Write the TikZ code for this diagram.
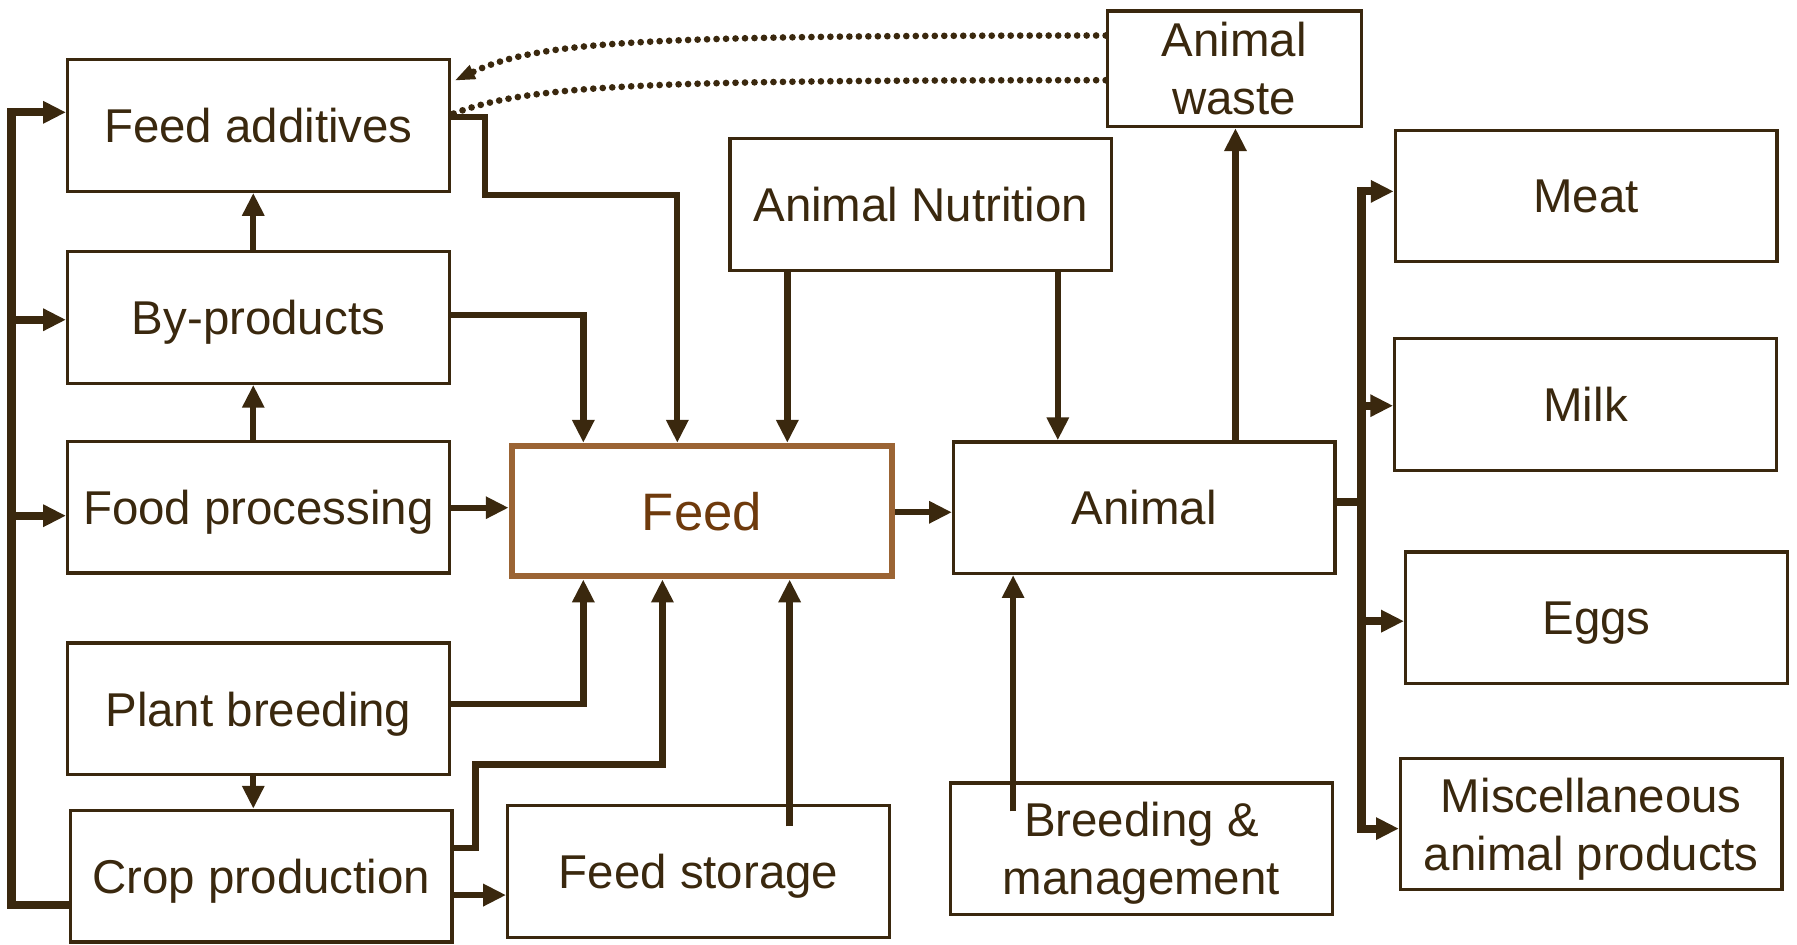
\documentclass[tikz,border=0pt]{standalone}
\usepackage{fontspec}
\setmainfont{Liberation Sans}
\usetikzlibrary{arrows.meta,calc}
\definecolor{dk}{RGB}{58,40,14}
\definecolor{feedborder}{RGB}{155,100,52}
\definecolor{feedtext}{RGB}{110,58,12}
\begin{document}
\begin{tikzpicture}[x=0.02292cm,y=-0.02292cm,
 box/.style={draw=dk,line width=1.9pt,minimum width=7.63cm,minimum height=2.63cm,inner sep=0pt,text depth=0pt,align=center,text=dk,font=\fontsize{27}{33}\selectfont},
 conn/.style={draw=dk,line width=3.6pt,-{Triangle[length=13pt,width=12pt]}},
 plainline/.style={draw=dk,line width=3.6pt},
 dots/.style={draw=dk,line width=3.8pt,line cap=round,dash pattern=on 0pt off 5.4pt}]
\useasboundingbox (0,0) rectangle (1568,824);
% nodes
\node[box] (fa) at (225.5,109.5) {Feed additives};
\node[box] (bp) at (225.5,277) {By-products};
\node[box] (fp) at (225.5,442.5) {Food processing};
\node[box] (pb) at (225.5,618.5) {Plant breeding};
\node[box] (cp) at (228,764.5) {Crop production};
\node[box] (fs) at (609.5,760.5) {Feed storage};
\node[box,draw=feedborder,line width=3.8pt,minimum width=7.6cm,minimum height=2.6cm,text=feedtext,font=\fontsize{30}{36}\selectfont] (feed) at (612.5,446) {Feed};
\node[box] (an) at (803.5,178.5) {Animal Nutrition};
\node[box,minimum width=5.08cm,minimum height=2.31cm] (aw) at (1077,60) {Animal\\waste};
\node[box] (anim) at (998.5,443) {Animal};
\node[box] (bm) at (996,740.5) {Breeding \&\\management};
\node[box] (meat) at (1384,171) {Meat};
\node[box] (milk) at (1383.5,353) {Milk};
\node[box] (eggs) at (1393,539) {Eggs};
\node[box] (misc) at (1388.5,719) {Miscellaneous\\animal products};
% left bus
\draw[conn,line width=4.6pt] (cp.west |- 0,790) -- (10,790) -- (10,98) -- (fa.west |- 0,98);
\draw[conn,line width=4.6pt] (10,279) -- (bp.west |- 0,279);
\draw[conn,line width=4.6pt] (10,450) -- (fp.west |- 0,450);
% vertical links on the left column
\draw[conn] (bp.north -| 221,0) -- (fa.south -| 221,0);
\draw[conn] (fp.north -| 221,0) -- (bp.south -| 221,0);
\draw[conn] (pb.south -| 221,0) -- (cp.north -| 221,0);
% links into feed
\draw[conn] (fa.east |- 0,102) -- (423,102) -- (423,170) -- (591,170) -- (feed.north -| 591,0);
\draw[conn] (bp.east |- 0,275) -- (509,275) -- (feed.north -| 509,0);
\draw[conn] (fp.east |- 0,443) -- (feed.west |- 0,443);
\draw[conn] (pb.east |- 0,614) -- (509,614) -- (feed.south -| 509,0);
\draw[conn] (cp.east |- 0,740) -- (415,740) -- (415,667) -- (578,667) -- (feed.south -| 578,0);
\draw[conn] (cp.east |- 0,781) -- (fs.west |- 0,781);
\coordinate (fsin) at (689,721);
\draw[conn] (fsin) -- (feed.south -| fsin);
\draw[conn] (an.south -| 687,0) -- (feed.north -| 687,0);
\draw[conn] (an.south -| 923,0) -- (anim.north -| 923,0);
\draw[conn] (feed.east |- 0,447) -- (anim.west |- 0,447);
\draw[conn] (anim.north -| 1078,0) -- (aw.south -| 1078,0);
\coordinate (bmin) at (884,708);
\draw[conn] (bmin) -- (anim.south -| bmin);
% right bus
\draw[plainline,line width=4.6pt] (anim.east |- 0,438) -- (1189,438);
\draw[conn,line width=4.6pt] (1188,438) -- (1188,167) -- (meat.west |- 0,167);
\draw[conn,line width=4.6pt] (1188,438) -- (1188,723) -- (misc.west |- 0,723);
\draw[conn,line width=4.6pt] (1188,354) -- (milk.west |- 0,354);
\draw[conn,line width=4.6pt] (1188,542) -- (eggs.west |- 0,542);
% dotted returns
\draw[dots,-{Triangle[length=11pt,width=9pt,line width=0pt]}] (aw.west |- 0,31) .. controls (560,31) and (470,36) .. ($(fa.east |- 0,70)+(4,0)$);
\draw[dots] (aw.west |- 0,70) .. controls (560,70) and (460,74) .. (fa.east |- 0,100);
\end{tikzpicture}
\end{document}
